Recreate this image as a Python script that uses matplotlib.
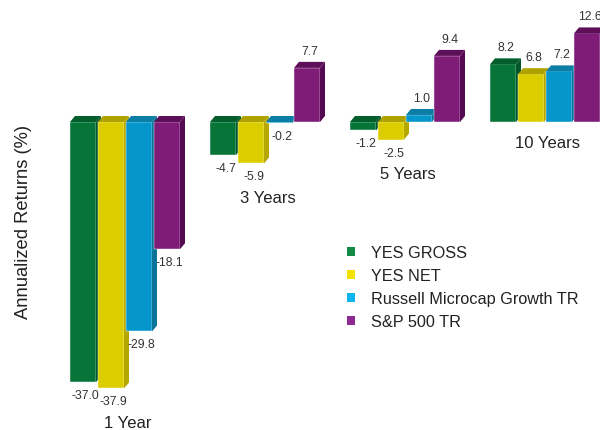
import matplotlib.pyplot as plt
from matplotlib.patches import Polygon, Patch

plt.rcParams['font.family'] = ['Liberation Sans', 'DejaVu Sans']

# Data
periods = ['1 Year', '3 Years', '5 Years', '10 Years']
series = ['YES GROSS', 'YES NET', 'Russell Microcap Growth TR', 'S&P 500 TR']
yes_gross = [-37.0, -4.7, -1.2, 8.2]
yes_net = [-37.9, -5.9, -2.5, 6.8]
russell = [-29.8, -0.2, 1.0, 7.2]
sp500 = [-18.1, 7.7, 9.4, 12.6]
values = [yes_gross, yes_net, russell, sp500]

# colours: front, top, side, legend
front_cols = ['#077538', '#dccd00', '#0597cc', '#7e1c78']
top_cols = ['#045e2c', '#aea200', '#0c7ea5', '#5e0f5a']
side_cols = ['#03552a', '#b5a700', '#0a7398', '#560a52']
legend_cols = ['#138a45', '#f2e200', '#0db4ee', '#8d2b92']

W, H = 600, 431
fig = plt.figure(figsize=(W / 100, H / 100), dpi=100)
ax = fig.add_axes([0, 0, 1, 1])

# pixel -> data mapping (28 px per bar slot, 7.03 px per percent)
PX_X, PX_Y = 28.0, 7.03
x0_px, base_px = 70.0, 123.0
ax.set_xlim(-x0_px / PX_X, (W - x0_px) / PX_X)
ax.set_ylim(-(H - base_px) / PX_Y, base_px / PX_Y)
ax.axis('off')

bw = 26 / PX_X      # front width
dx = 5 / PX_X       # depth offsets
dy = 6 / PX_Y

for g, period in enumerate(periods):
    for s in range(len(series)):
        v = values[s][g]
        xl = g * 5 + s
        xr = xl + bw
        top, bot = max(v, 0), min(v, 0)
        ax.bar(xl, v, width=bw, align='edge', color=front_cols[s],
               edgecolor='#ffffff', linewidth=0.3, zorder=2 + s)
        ax.add_patch(Polygon([(xl, top), (xl + dx, top + dy), (xr + dx, top + dy), (xr, top)],
                             closed=True, facecolor=top_cols[s], edgecolor='none', zorder=2 + s))
        ax.add_patch(Polygon([(xr, bot), (xr + dx, bot + dy), (xr + dx, top + dy), (xr, top)],
                             closed=True, facecolor=side_cols[s], edgecolor='none', zorder=2 + s))
        xc = xl + bw / 2 + dx / 2
        if v < 0:
            ax.text(xc, v - 13 / PX_Y, f'{v:.1f}', ha='center', va='center',
                    fontsize=8.8, color='#333333')
        else:
            ax.text(xc, v + 17 / PX_Y, f'{v:.1f}', ha='center', va='center',
                    fontsize=8.8, color='#333333')
    lowest = min(vals[g] for vals in values)
    gc = g * 5 + (3 + bw + dx) / 2
    if lowest < 0:
        ly = lowest - 34 / PX_Y
    else:
        ly = -20 / PX_Y
    ax.text(gc, ly, period, ha='center', va='center', fontsize=12, color='#222222')

fig.text(24 / W, 1 - 222 / H, 'Annualized Returns (%)', rotation=90, ha='center',
         va='center', fontsize=13.2, color='#222222')

handles = [Patch(facecolor=c, edgecolor='none') for c in legend_cols]
fig.legend(handles, series, loc='upper left', bbox_to_anchor=(347 / W, 1 - 246 / H),
           bbox_transform=fig.transFigure, frameon=False, fontsize=11.7,
           handlelength=0.5, handleheight=0.5, handletextpad=1.0,
           labelspacing=0.5, borderpad=0, borderaxespad=0, labelcolor='#222222')

fig.savefig('out.png', dpi=100)
